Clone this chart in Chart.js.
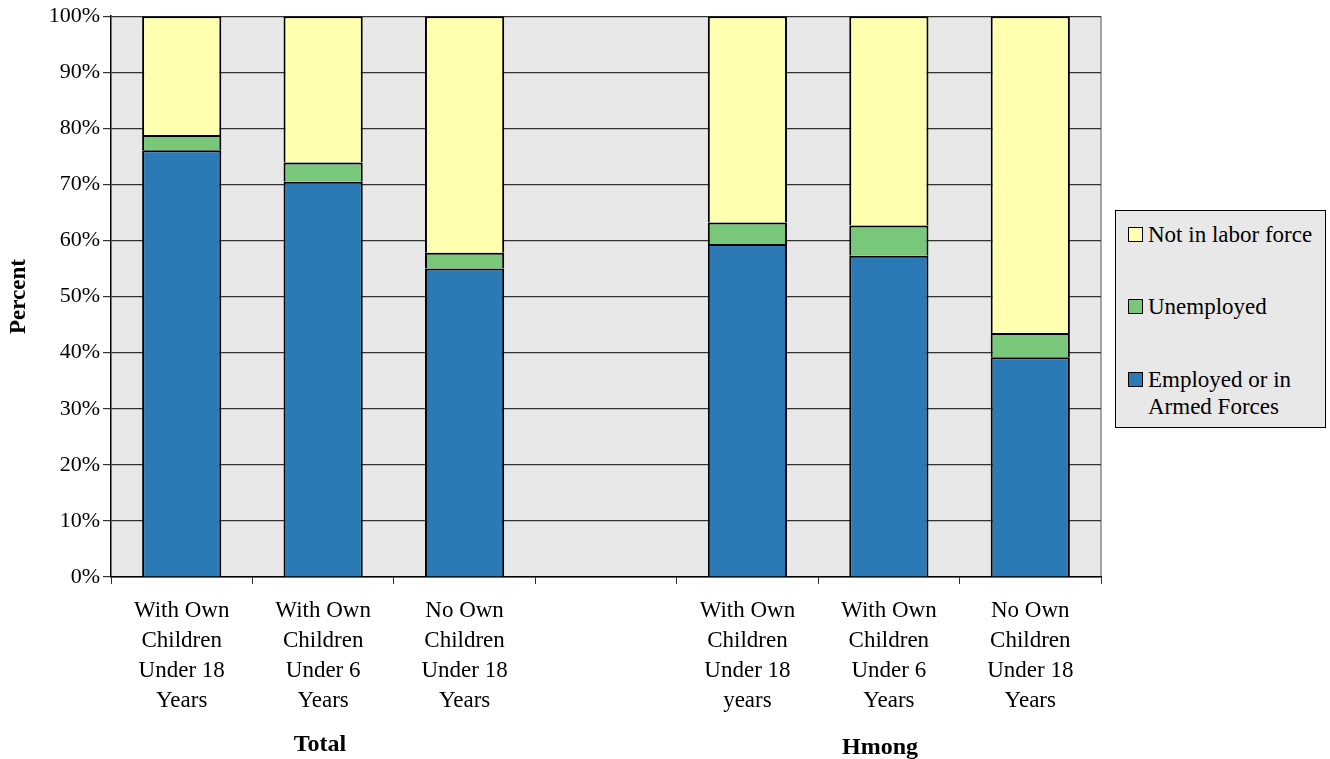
<!DOCTYPE html>
<html>
<head>
<meta charset="utf-8">
<script src="https://cdn.jsdelivr.net/npm/chart.js@4"></script>
<style>
    body { margin: 0; background: #fff; font-family: "Liberation Serif", serif; }
    #wrap { position: relative; width: 1330px; height: 759px; }
    .grp { position: absolute; font-weight: bold; font-size: 24px; color: #000; transform: translateX(-50%); line-height: 24px; }
    #legend { position: absolute; left: 1115px; top: 210px; width: 209px; height: 216px;
              background: #e8e8e8; border: 1px solid #000; font-size: 23px; color: #000; }
    .item { position: absolute; left: 12px; display: flex; align-items: flex-start; line-height: 27px; white-space: nowrap; }
    .sw { width: 13px; height: 13px; border: 1.5px solid #000; margin-top: 6px; margin-right: 5px; flex: none; }
</style>
</head>
<body>
<div id="wrap">
    <canvas id="chart" width="1330" height="759"></canvas>
    <div class="grp" style="left:320px; top:731px;">Total</div>
    <div class="grp" style="left:880px; top:734px;">Hmong</div>
    <div id="legend"></div>
</div>
<script>
// datos
const categorias = [
    ['With Own', 'Children', 'Under 18', 'Years'],
    ['With Own', 'Children', 'Under 6', 'Years'],
    ['No Own', 'Children', 'Under 18', 'Years'],
    '',
    ['With Own', 'Children', 'Under 18', 'years'],
    ['With Own', 'Children', 'Under 6', 'Years'],
    ['No Own', 'Children', 'Under 18', 'Years']
];
const empleados = [76.1, 70.5, 55.0, null, 59.4, 57.3, 39.2];
const desempleados = [2.7, 3.4, 2.8, null, 3.8, 5.4, 4.3];
const fueraFuerza = [21.2, 26.1, 42.2, null, 36.8, 37.3, 56.5];
const ticksY = [0, 10, 20, 30, 40, 50, 60, 70, 80, 90, 100];

const colores = { emp: '#2c7ab5', des: '#79c879', nilf: '#ffffb0' };

// leyenda
const leyenda = [
    { txt: 'Not in labor force', color: colores.nilf, top: 10 },
    { txt: 'Unemployed', color: colores.des, top: 82 },
    { txt: 'Employed or in<br>Armed Forces', color: colores.emp, top: 155 }
];
const legendDiv = document.getElementById('legend');
leyenda.forEach(function(l) {
    const d = document.createElement('div');
    d.className = 'item';
    d.style.top = l.top + 'px';
    d.innerHTML = '<span class="sw" style="background:' + l.color + '"></span><span>' + l.txt + '</span>';
    legendDiv.appendChild(d);
});

const fondoPlot = {
    id: 'fondoPlot',
    beforeDraw: function(chart) {
        const a = chart.chartArea;
        const ctx = chart.ctx;
        ctx.save();
        ctx.fillStyle = '#e8e8e8';
        ctx.fillRect(a.left, a.top, a.right - a.left, a.bottom - a.top);
        ctx.strokeStyle = '#888';
        ctx.lineWidth = 1.5;
        ctx.beginPath();
        ctx.moveTo(a.right, a.top);
        ctx.lineTo(a.right, a.bottom);
        ctx.stroke();
        ctx.restore();
    }
};

const comun = { borderColor: '#000', borderWidth: 2, categoryPercentage: 1, barPercentage: 0.56 };

new Chart(document.getElementById('chart').getContext('2d'), {
    type: 'bar',
    data: {
        labels: categorias,
        datasets: [
            Object.assign({ label: 'Employed or in Armed Forces', data: empleados, backgroundColor: colores.emp }, comun),
            Object.assign({ label: 'Unemployed', data: desempleados, backgroundColor: colores.des }, comun),
            Object.assign({ label: 'Not in labor force', data: fueraFuerza, backgroundColor: colores.nilf }, comun)
        ]
    },
    options: {
        responsive: false,
        animation: false,
        layout: { padding: { top: 13, right: 229, left: 0, bottom: 0 } },
        plugins: { legend: { display: false }, tooltip: { enabled: false } },
        scales: {
            x: {
                stacked: true,
                afterFit: function(s) { s.height = 182; },
                grid: { offset: true, drawOnChartArea: false, tickLength: 7, color: '#333' },
                border: { color: '#000', width: 1.5 },
                ticks: {
                    color: '#000', padding: 12, maxRotation: 0,
                    font: { family: 'Liberation Serif', size: 23, lineHeight: '30px' }
                }
            },
            y: {
                stacked: true,
                min: 0, max: 100,
                afterFit: function(s) { s.width = 111; },
                afterBuildTicks: function(s) { s.ticks = ticksY.map(function(v) { return { value: v }; }); },
                grid: { color: '#333', lineWidth: 1.2, tickLength: 8 },
                border: { color: '#000', width: 1.5 },
                ticks: {
                    color: '#000', padding: 3,
                    font: { family: 'Liberation Serif', size: 22 },
                    callback: function(v) { return v + '%'; }
                },
                title: {
                    display: true, text: 'Percent', color: '#000', padding: { top: 5, bottom: 0 },
                    font: { family: 'Liberation Serif', size: 23, weight: 'bold' }
                }
            }
        }
    },
    plugins: [fondoPlot]
});
</script>
</body>
</html>
